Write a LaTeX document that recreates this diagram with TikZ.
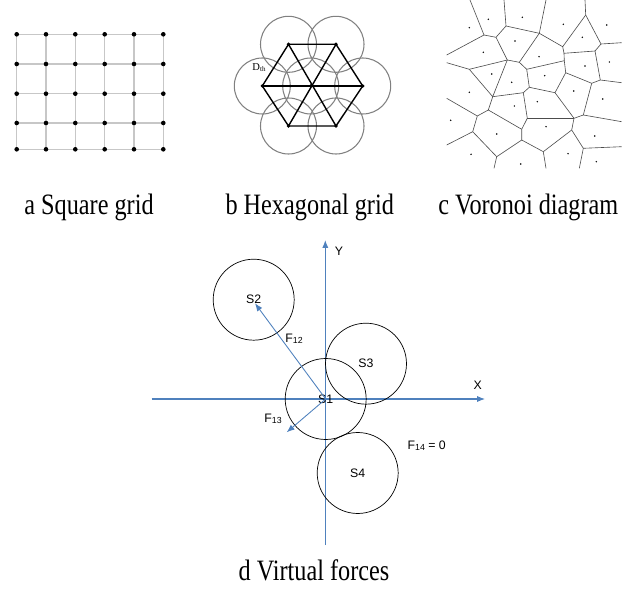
\documentclass[tikz,border=0pt]{standalone}
\usepackage{fontspec}
\setmainfont{Liberation Serif}
\newfontfamily\labelfont{Liberation Sans}
\usepackage{tikz}
\usetikzlibrary{arrows.meta}
\usepackage{xcolor}
\definecolor{axisblue}{HTML}{4F81BD}

\tikzset{
  caption/.style={anchor=base, font=\fontsize{13.8}{14}\selectfont},
  gridline/.style={draw=black!22, line width=0.6pt},
  hexline/.style={line width=0.8pt},
  hexcircle/.style={draw=black!50, line width=0.6pt},
  cell/.style={draw=black!70, line width=0.35pt},
  sensor/.style={draw, circle, line width=0.4pt, minimum size=1.62cm, inner sep=0pt,
    font=\labelfont\fontsize{7}{7}\selectfont},
  axis/.style={draw=axisblue, line width=0.6pt, -{Latex[length=4.5pt,width=3.5pt]}},
  force/.style={draw=axisblue, line width=0.5pt, -{Latex[length=4.5pt,width=3.5pt]}},
  lbl/.style={font=\labelfont\fontsize{7}{7}\selectfont},
}
\newcommand{\flabel}[1]{F\raisebox{-0.15ex}{\fontsize{5}{5}\selectfont #1}}
\newcommand{\capt}[1]{\scalebox{1}[1.22]{#1}}

\begin{document}
\begin{tikzpicture}[x=0.02cm, y=-0.02cm]
    \useasboundingbox (0,0) rectangle (636,591);

    % Square grid
    \foreach \i/\x in {0/16.7,1/46,2/75.3,3/104.7,4/134,5/163.3}
      \foreach \j/\y in {0/34.3,1/64,2/93.7,3/123,4/149.3}
        \coordinate (g\i\j) at (\x,\y);
    \foreach \j in {0,...,4}
      \draw[gridline] (g0\j) -- (g5\j);
    \foreach \i in {0,...,5}
      \draw[gridline] (g\i0) -- (g\i4);
    \foreach \i in {0,...,5}
      \foreach \j in {0,...,4}
        \fill (g\i\j) circle (2.3);
    \node[caption] (capa) at (89,214.3) {\capt{a Square grid}};

    % Hexagonal grid
    \coordinate (h0) at (310.7,86);
    \coordinate (h1) at (288.5,44.3);
    \coordinate (h2) at (336,44.3);
    \coordinate (h3) at (362.7,86);
    \coordinate (h4) at (336,126);
    \coordinate (h5) at (288.5,126);
    \coordinate (h6) at (262.3,86);
    \foreach \k in {0,...,6}
      \draw[hexcircle] (h\k) circle (28);
    \draw[hexline] (h1) -- (h2) -- (h3) -- (h4) -- (h5) -- (h6) -- cycle;
    \draw[hexline] (h6) -- (h3);
    \draw[hexline] (h1) -- (h4);
    \draw[hexline] (h2) -- (h5);
    \foreach \k in {0,...,6}
      \fill (h\k) circle (1.8);
    \node[font=\fontsize{6}{6}\selectfont] (dth) at (259,68)
      {D\raisebox{-0.2ex}{\fontsize{4}{4}\selectfont th}};
    \node[caption] (capb) at (309.7,214.3) {\capt{b Hexagonal grid}};

    % Voronoi diagram
    \coordinate (v1) at (484,35);      \coordinate (v2) at (496,37.3);
    \coordinate (v3) at (506,26);      \coordinate (v5) at (539.3,33.3);
    \coordinate (v7) at (562.7,46.7);  \coordinate (v8) at (585.7,15);
    \coordinate (v10) at (601,44);     \coordinate (v12) at (564,53.3);
    \coordinate (v13) at (595,51);     \coordinate (v14) at (600.3,80);
    \coordinate (v16) at (565.7,72.7); \coordinate (v17) at (526.7,69.3);
    \coordinate (v18) at (519.3,62.3); \coordinate (v20) at (507.3,60);
    \coordinate (v21) at (469.3,69.3); \coordinate (v24) at (492.7,96.7);
    \coordinate (v25) at (523.3,92.7); \coordinate (v26) at (488.3,110);
    \coordinate (v27) at (529.3,87.3); \coordinate (v28) at (527.3,118.3);
    \coordinate (v29) at (555,92.7);   \coordinate (v30) at (574,118.3);
    \coordinate (v31) at (583.3,115);  \coordinate (v32) at (571.7,130);
    \coordinate (v33) at (583.3,148.3); \coordinate (v34) at (543.3,151.7);
    \coordinate (v35) at (521.7,140);  \coordinate (v36) at (521.7,129.3);
    \coordinate (v37) at (496.7,156.7); \coordinate (v38) at (472.7,131.7);
    \coordinate (v39) at (477.3,116);  \coordinate (v40) at (564.3,60.7);
    \coordinate (v41) at (591.7,83.3);
    \coordinate (b1) at (470,0);       \coordinate (b2) at (504,0);
    \coordinate (b3) at (546,0);       \coordinate (b4) at (585,0);
    \coordinate (b5) at (621.7,42.7);  \coordinate (b6) at (621.7,82.7);
    \coordinate (b7) at (621.7,121.7); \coordinate (b8) at (621.7,146.7);
    \coordinate (b9) at (579.3,168.3); \coordinate (b10) at (546,168.3);
    \coordinate (b11) at (494,168.3);  \coordinate (b12) at (446.7,145);
    \coordinate (b13) at (446.7,98.3); \coordinate (b14) at (446.7,62.7);
    \coordinate (b15) at (446.7,55);
    \begin{scope}
      \clip (446.7,0) rectangle (621.7,168.3);
      \draw[cell] (b1) -- (v1) -- (b15);
      \draw[cell] (v1) -- (v2) -- (v3) -- (b2);
      \draw[cell] (v3) -- (v5) -- (b3);
      \draw[cell] (v5) -- (v7) -- (v8) -- (b4);
      \draw[cell] (v8) -- (v10) -- (b5);
      \draw[cell] (v10) -- (v13) -- (v12) -- (v7);
      \draw[cell] (v12) -- (v40) -- (v17) -- (v18) -- (v5);
      \draw[cell] (v40) -- (v16) -- (v41) -- (v14) -- (v13);
      \draw[cell] (v14) -- (b6);
      \draw[cell] (v18) -- (v20) -- (v2);
      \draw[cell] (v20) -- (v21) -- (b14);
      \draw[cell] (v21) -- (v24) -- (v20);
      \draw[cell] (v24) -- (v25) -- (v27) -- (v17);
      \draw[cell] (v24) -- (v26) -- (v36) -- (v28) -- (v25);
      \draw[cell] (v27) -- (v29) -- (v16);
      \draw[cell] (v29) -- (v30) -- (v31) -- (v41);
      \draw[cell] (v31) -- (b7);
      \draw[cell] (v30) -- (v28);
      \draw[cell] (v30) -- (v32) -- (v33) -- (b8);
      \draw[cell] (v33) -- (b9);
      \draw[cell] (v32) -- (v34) -- (b10);
      \draw[cell] (v34) -- (v35) -- (v36);
      \draw[cell] (v35) -- (v37) -- (b11);
      \draw[cell] (v37) -- (v38) -- (b12);
      \draw[cell] (v38) -- (v39) -- (b13);
      \draw[cell] (v39) -- (v26);
    \end{scope}
    \foreach \p in {(488.3,19.3),(469.3,27.7),(522.3,17.3),(563.3,24.3),(606.7,25),
                    (582.3,37.3),(515,41),(483.3,52.3),(539,56.7),(609.3,62),
                    (585,66),(491.7,74),(511.7,82.3),(544.7,75.7),(469.3,92.3),
                    (573.7,91),(602.7,99),(514.3,106),(537.3,101.7),(450.7,120.3),
                    (546,126.7),(496.7,134),(594.7,136),(471,154.3),(568,153.7),
                    (596.3,161.7),(520.7,164)}
      \fill \p circle (0.8);
    \node[caption] (capc) at (528.3,214.3) {\capt{c Voronoi diagram}};

    % Virtual forces
    \coordinate (xl) at (151.7,399);
    \coordinate (xr) at (485,399);
    \coordinate (yb) at (325.3,545);
    \coordinate (yt) at (325.3,240);
    \draw[axis] (xl) -- (xr);
    \draw[axis] (yb) -- (yt);
    \node[lbl] (ylab) at (339,251.7) {Y};
    \node[lbl] (xlab) at (477.7,385) {X};

    \node[sensor] (s1) at (325.7,399) {S1};
    \node[sensor] (s2) at (253.7,299.7) {S2};
    \node[sensor] (s3) at (366,363.7) {S3};
    \node[sensor] (s4) at (357.7,473) {S4};

    \coordinate (f12) at (255,303.3);
    \coordinate (f13) at (286.7,432.3);
    \draw[force] (s1.center) -- (f12);
    \draw[force] (s1.center) -- (f13);
    \node[lbl] (f12lab) at (294,339) {\flabel{12}};
    \node[lbl] (f13lab) at (273,419) {\flabel{13}};
    \node[lbl] (f14lab) at (426.7,445.7) {\flabel{14} = 0};
    \node[caption] (capd) at (314,580.7) {\capt{d Virtual forces}};
\end{tikzpicture}
\end{document}
